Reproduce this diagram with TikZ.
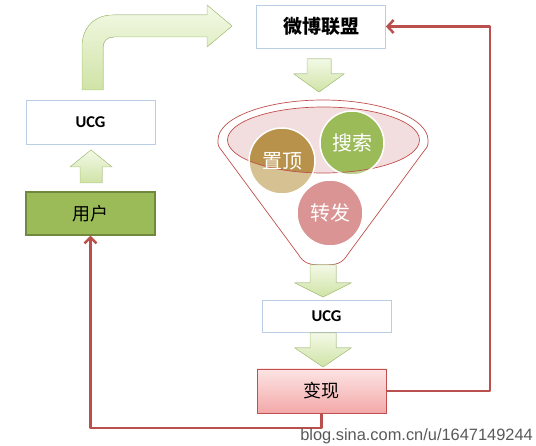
\documentclass[tikz,border=0pt]{standalone}
\usepackage{fontspec}
\newfontfamily\cjk{Noto Sans CJK SC}
\newfontfamily\cali{Carlito}
\newfontfamily\wmfont{Liberation Sans}
\usetikzlibrary{arrows.meta}
\definecolor{boxblue}{HTML}{B9CDE5}
\definecolor{usergreen}{HTML}{9BBB59}
\definecolor{userborder}{HTML}{71893F}
\definecolor{cashtop}{HTML}{FDE4E4}
\definecolor{cashbot}{HTML}{F3A8A8}
\definecolor{cashborder}{HTML}{C0504D}
\definecolor{linered}{HTML}{B9504E}
\definecolor{funnelred}{HTML}{C0504D}
\definecolor{ellpink}{HTML}{F2DEDE}
\definecolor{arrowtop}{HTML}{F3F9E6}
\definecolor{arrowbot}{HTML}{D0E3A6}
\definecolor{arrowline}{HTML}{B2CD82}
\definecolor{tandark}{HTML}{B8914A}
\definecolor{tanlight}{HTML}{D6C193}
\definecolor{greendark}{HTML}{9BBB59}
\definecolor{greenlight}{HTML}{BCD190}
\definecolor{pinkbub}{HTML}{D99493}
\tikzset{
  plainbox/.style={draw=boxblue, line width=0.8pt, fill=white, minimum width=129, minimum height=43, inner sep=0pt, font=\cjk\fontsize{18}{21}\selectfont},
  ucgbox/.style={plainbox, font=\cali\bfseries\fontsize{16.5}{19}\selectfont},
  blockarrow/.style={draw=arrowline, line width=0.5pt, top color=arrowtop, bottom color=arrowbot},
  redline/.style={draw=linered, line width=2.5pt, line join=round},
  bubble/.style={circle, draw=white, line width=1.5pt, minimum size=66, inner sep=0pt, text=white, font=\cjk\fontsize{20}{23}\selectfont},
}
\begin{document}
\begin{tikzpicture}[x=1pt,y=-1pt]
  \useasboundingbox (0,0) rectangle (536,446);
  % funnel
  \filldraw[draw=funnelred, line width=0.7pt, fill=white]
    (218,140) arc[start angle=180, end angle=360, x radius=105, y radius=40]
    .. controls (428,146) .. (424,151) -- (348,254)
    .. controls (342,264) and (336,265) .. (323,265)
    .. controls (310,265) and (304,264) .. (298,254)
    -- (222,151) .. controls (218,146) .. (218,140) -- cycle;
  \fill[ellpink] (323.5,140) ellipse [x radius=96, y radius=33];
  % bubbles, darker inside the ellipse
  \fill[tanlight] (282,161) circle (33);
  \fill[greenlight] (352,143) circle (32);
  \begin{scope}
    \clip (323.5,140) ellipse [x radius=96, y radius=33];
    \fill[tandark] (282,161) circle (33);
    \fill[greendark] (352,143) circle (32);
  \end{scope}
  \draw[funnelred, line width=0.7pt] (323.5,140) ellipse [x radius=96, y radius=33];
  \node[bubble] (zhiding) at (282,161) {置顶};
  \node[bubble, minimum size=64] (sousuo) at (352,143) {搜索};
  \node[bubble, fill=pinkbub] (zhuanfa) at (330,213) {转发};
  % boxes
  \node[plainbox, font=\cjk\bfseries\fontsize{19}{22}\selectfont] (weibo) at (321,26.5) {微博联盟};
  \node[ucgbox, minimum height=44] (ucgleft) at (90.5,122) {UCG};
  \node[plainbox, draw=userborder, line width=1.2pt, fill=usergreen] (user) at (90.5,213.5) {用户};
  \node[ucgbox, minimum height=32] (ucgmid) at (326.5,316) {UCG};
  \node[plainbox, draw=cashborder, top color=cashtop, bottom color=cashbot, minimum height=44] (cash) at (321.5,391) {变现};
  % block arrows: x / start / head / tip / shaft / head half width
  \foreach \cx/\ya/\yb/\yc/\sw/\hw in {319/59/74/92/12/25, 323/265/283/297/13/28, 323/333/348/367/13/28, 91/183/167/150/11/21}{
    \filldraw[blockarrow] (\cx-\sw,\ya) -- (\cx-\sw,\yb) -- (\cx-\hw,\yb) -- (\cx,\yc)
      -- (\cx+\hw,\yb) -- (\cx+\sw,\yb) -- (\cx+\sw,\ya) -- cycle;
  }
  % bent arrow
  \filldraw[blockarrow] (82,90) -- (82,47) .. controls (82,28) and (94,15) .. (113,15)
    -- (207,15) -- (207,5) -- (232,26) -- (207,47) -- (207,37) -- (114,37)
    .. controls (107,37) and (103,41) .. (103,48) -- (103,90) -- cycle;
  % feedback lines
  \coordinate (rtop) at (490,26.5);
  \coordinate (lbot) at (90.5,428);
  \draw[redline, -{Straight Barb[length=6pt,width=13pt]}] (cash.east) -| (rtop) -- (weibo.east);
  \draw[redline, -{Straight Barb[length=6pt,width=12pt]}] (cash.south) |- (lbot) -- (user.south);
  % watermark
  \node[anchor=south east, inner sep=0pt, text=black!65, font=\wmfont\fontsize{16.4}{18}\selectfont] (wmark) at (533,444) {blog.sina.com.cn/u/1647149244};
\end{tikzpicture}
\end{document}
